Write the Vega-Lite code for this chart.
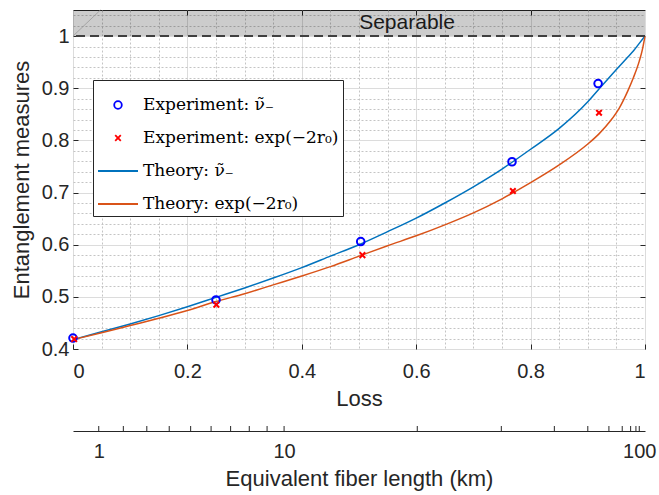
{
  "$schema": "https://vega.github.io/schema/vega-lite/v6.json",
  "autosize": {"type": "pad"},
  "padding": {"left": 9, "top": 7, "right": 5, "bottom": 5},
  "background": "white",
  "config": {
    "font": "Liberation Sans",
    "view": {"stroke": null},
    "axis": {
      "labelFont": "Liberation Sans",
      "titleFont": "Liberation Sans",
      "labelColor": "#262626",
      "titleColor": "#262626",
      "labelFontSize": 20,
      "titleFontSize": 22,
      "titleFontWeight": "normal",
      "tickColor": "#262626"
    }
  },
  "datasets": {
    "theory": [
      {"loss": 0, "value": 0.418, "series": "Theory: ν̃₋"},
      {"loss": 0.05, "value": 0.433, "series": "Theory: ν̃₋"},
      {"loss": 0.1, "value": 0.448, "series": "Theory: ν̃₋"},
      {"loss": 0.15, "value": 0.464, "series": "Theory: ν̃₋"},
      {"loss": 0.2, "value": 0.481, "series": "Theory: ν̃₋"},
      {"loss": 0.25, "value": 0.499, "series": "Theory: ν̃₋"},
      {"loss": 0.3, "value": 0.517, "series": "Theory: ν̃₋"},
      {"loss": 0.35, "value": 0.536, "series": "Theory: ν̃₋"},
      {"loss": 0.4, "value": 0.556, "series": "Theory: ν̃₋"},
      {"loss": 0.45, "value": 0.578, "series": "Theory: ν̃₋"},
      {"loss": 0.5, "value": 0.6, "series": "Theory: ν̃₋"},
      {"loss": 0.55, "value": 0.625, "series": "Theory: ν̃₋"},
      {"loss": 0.6, "value": 0.651, "series": "Theory: ν̃₋"},
      {"loss": 0.65, "value": 0.68, "series": "Theory: ν̃₋"},
      {"loss": 0.7, "value": 0.711, "series": "Theory: ν̃₋"},
      {"loss": 0.75, "value": 0.745, "series": "Theory: ν̃₋"},
      {"loss": 0.8, "value": 0.783, "series": "Theory: ν̃₋"},
      {"loss": 0.85, "value": 0.823, "series": "Theory: ν̃₋"},
      {"loss": 0.9, "value": 0.874, "series": "Theory: ν̃₋"},
      {"loss": 0.92, "value": 0.899, "series": "Theory: ν̃₋"},
      {"loss": 0.95, "value": 0.936, "series": "Theory: ν̃₋"},
      {"loss": 0.97, "value": 0.96, "series": "Theory: ν̃₋"},
      {"loss": 0.98, "value": 0.972, "series": "Theory: ν̃₋"},
      {"loss": 0.99, "value": 0.986, "series": "Theory: ν̃₋"},
      {"loss": 1.0, "value": 1.0, "series": "Theory: ν̃₋"},
      {"loss": 0, "value": 0.418, "series": "Theory: exp(−2r₀)"},
      {"loss": 0.05, "value": 0.431, "series": "Theory: exp(−2r₀)"},
      {"loss": 0.1, "value": 0.445, "series": "Theory: exp(−2r₀)"},
      {"loss": 0.15, "value": 0.459, "series": "Theory: exp(−2r₀)"},
      {"loss": 0.2, "value": 0.474, "series": "Theory: exp(−2r₀)"},
      {"loss": 0.25, "value": 0.491, "series": "Theory: exp(−2r₀)"},
      {"loss": 0.3, "value": 0.506, "series": "Theory: exp(−2r₀)"},
      {"loss": 0.35, "value": 0.523, "series": "Theory: exp(−2r₀)"},
      {"loss": 0.4, "value": 0.54, "series": "Theory: exp(−2r₀)"},
      {"loss": 0.45, "value": 0.558, "series": "Theory: exp(−2r₀)"},
      {"loss": 0.5, "value": 0.578, "series": "Theory: exp(−2r₀)"},
      {"loss": 0.55, "value": 0.598, "series": "Theory: exp(−2r₀)"},
      {"loss": 0.6, "value": 0.617, "series": "Theory: exp(−2r₀)"},
      {"loss": 0.65, "value": 0.638, "series": "Theory: exp(−2r₀)"},
      {"loss": 0.7, "value": 0.661, "series": "Theory: exp(−2r₀)"},
      {"loss": 0.75, "value": 0.688, "series": "Theory: exp(−2r₀)"},
      {"loss": 0.8, "value": 0.719, "series": "Theory: exp(−2r₀)"},
      {"loss": 0.85, "value": 0.753, "series": "Theory: exp(−2r₀)"},
      {"loss": 0.9, "value": 0.793, "series": "Theory: exp(−2r₀)"},
      {"loss": 0.92, "value": 0.813, "series": "Theory: exp(−2r₀)"},
      {"loss": 0.94, "value": 0.838, "series": "Theory: exp(−2r₀)"},
      {"loss": 0.955, "value": 0.862, "series": "Theory: exp(−2r₀)"},
      {"loss": 0.97, "value": 0.895, "series": "Theory: exp(−2r₀)"},
      {"loss": 0.98, "value": 0.921, "series": "Theory: exp(−2r₀)"},
      {"loss": 0.99, "value": 0.952, "series": "Theory: exp(−2r₀)"},
      {"loss": 0.995, "value": 0.972, "series": "Theory: exp(−2r₀)"},
      {"loss": 1.0, "value": 1.0, "series": "Theory: exp(−2r₀)"}
    ],
    "exp": [
      {"loss": 0.0, "value": 0.421, "series": "Experiment: ν̃₋"},
      {"loss": 0.25, "value": 0.494, "series": "Experiment: ν̃₋"},
      {"loss": 0.503, "value": 0.606, "series": "Experiment: ν̃₋"},
      {"loss": 0.7675, "value": 0.759, "series": "Experiment: ν̃₋"},
      {"loss": 0.918, "value": 0.909, "series": "Experiment: ν̃₋"},
      {"loss": 0.002, "value": 0.419, "series": "Experiment: exp(−2r₀)"},
      {"loss": 0.2506, "value": 0.485, "series": "Experiment: exp(−2r₀)"},
      {"loss": 0.506, "value": 0.58, "series": "Experiment: exp(−2r₀)"},
      {"loss": 0.769, "value": 0.703, "series": "Experiment: exp(−2r₀)"},
      {"loss": 0.9196, "value": 0.853, "series": "Experiment: exp(−2r₀)"}
    ],
    "region": [{"x0": 0, "x1": 1, "y0": 1, "y1": 1.05}],
    "threshold": [{"y": 1}],
    "diag": [{"loss": 0, "value": 1}, {"loss": 0.048, "value": 1.05}],
    "note": [{"loss": 0.584, "value": 1.026, "text": "Separable"}],
    "fiber": [
      {"km": 1, "loss": 0.045007},
      {"km": 2, "loss": 0.08799},
      {"km": 3, "loss": 0.12904},
      {"km": 4, "loss": 0.16824},
      {"km": 5, "loss": 0.20567},
      {"km": 6, "loss": 0.24142},
      {"km": 7, "loss": 0.27556},
      {"km": 8, "loss": 0.30817},
      {"km": 9, "loss": 0.33931},
      {"km": 10, "loss": 0.36904},
      {"km": 20, "loss": 0.60189},
      {"km": 30, "loss": 0.74881},
      {"km": 40, "loss": 0.84151},
      {"km": 50, "loss": 0.9},
      {"km": 60, "loss": 0.93690},
      {"km": 70, "loss": 0.96019},
      {"km": 80, "loss": 0.97488},
      {"km": 90, "loss": 0.98415},
      {"km": 100, "loss": 0.99}
    ]
  },
  "spacing": 77,
  "bounds": "flush",
  "vconcat": [
    {
      "width": 572,
      "height": 339,
      "view": {"stroke": "#262626", "strokeWidth": 1},
      "resolve": {"axis": {"x": "independent", "y": "independent"}},
      "layer": [
        {
          "data": {"name": "region"},
          "mark": {"type": "rect", "fill": "#000000", "opacity": 0.2},
          "encoding": {
            "x": {"field": "x0", "type": "quantitative",
              "scale": {"domain": [0, 1], "nice": false, "zero": false},
              "axis": {"orient": "bottom", "values": [0.05, 0.1, 0.15, 0.25, 0.3, 0.35, 0.45, 0.5, 0.55, 0.65, 0.7, 0.75, 0.85, 0.9, 0.95],
                "grid": true, "gridDash": [2, 2], "gridColor": "#c4c4c4", "labels": false, "ticks": false, "domain": false, "title": null}},
            "x2": {"field": "x1"},
            "y": {"field": "y0", "type": "quantitative",
              "scale": {"domain": [0.4, 1.05], "nice": false, "zero": false},
              "axis": {"orient": "left", "values": [0.42, 0.44, 0.46, 0.48, 0.52, 0.54, 0.56, 0.58, 0.62, 0.64, 0.66, 0.68, 0.72, 0.74, 0.76, 0.78, 0.82, 0.84, 0.86, 0.88, 0.92, 0.94, 0.96, 0.98, 1.02, 1.04],
                "grid": true, "gridDash": [2, 2], "gridColor": "#c4c4c4", "labels": false, "ticks": false, "domain": false, "title": null}},
            "y2": {"field": "y1"}
          }
        },
        {
          "data": {"name": "theory"},
          "mark": {"type": "line", "strokeWidth": 1.5, "interpolate": "monotone"},
          "encoding": {
            "x": {"field": "loss", "type": "quantitative",
              "scale": {"domain": [0, 1], "nice": false, "zero": false},
              "axis": {"orient": "bottom", "values": [0, 0.2, 0.4, 0.6, 0.8, 1], "format": "~g", "grid": true, "gridColor": "#dcdcdc",
                "tickSize": -5, "domain": false, "title": "Loss", "labelPadding": 17, "titlePadding": 7}},
            "y": {"field": "value", "type": "quantitative",
              "scale": {"domain": [0.4, 1.05], "nice": false, "zero": false},
              "axis": {"orient": "left", "values": [0.4, 0.5, 0.6, 0.7, 0.8, 0.9, 1], "format": "~g", "grid": true, "gridColor": "#dcdcdc",
                "tickSize": -5, "domain": false, "title": "Entanglement measures", "labelPadding": 9, "titlePadding": 8}},
            "color": {"field": "series", "type": "nominal",
              "scale": {"domain": ["Experiment: ν̃₋", "Experiment: exp(−2r₀)", "Theory: ν̃₋", "Theory: exp(−2r₀)"],
                "range": ["#0000ff", "#ff0000", "#0072bd", "#d95319"]},
              "legend": {"title": null, "orient": "none", "legendX": 20, "legendY": 70, "fillColor": "white", "strokeColor": "#262626",
                "padding": 4, "symbolSize": 1600, "symbolStrokeWidth": 1.8, "labelFont": "DejaVu Serif", "labelFontSize": 17,
                "labelColor": "#000000", "rowPadding": 4, "labelOffset": 4, "labelLimit": 400}}
          }
        },
        {
          "data": {"name": "exp"},
          "mark": {"type": "point", "filled": false, "strokeWidth": 2, "size": 1600, "opacity": 1},
          "encoding": {
            "x": {"field": "loss", "type": "quantitative",
              "scale": {"domain": [0, 1], "nice": false, "zero": false},
              "axis": {"orient": "top", "values": [0.2, 0.4, 0.6, 0.8], "labels": false, "grid": false, "tickSize": -5, "domain": false, "title": null}},
            "y": {"field": "value", "type": "quantitative",
              "scale": {"domain": [0.4, 1.05], "nice": false, "zero": false},
              "axis": {"orient": "right", "values": [0.5, 0.6, 0.7, 0.8, 0.9], "labels": false, "grid": false, "tickSize": -5, "domain": false, "title": null}},
            "color": {"field": "series", "type": "nominal",
              "scale": {"domain": ["Experiment: ν̃₋", "Experiment: exp(−2r₀)", "Theory: ν̃₋", "Theory: exp(−2r₀)"],
                "range": ["#0000ff", "#ff0000", "#0072bd", "#d95319"]},
              "legend": {"title": null, "orient": "none", "legendX": 20, "legendY": 70, "fillColor": "white", "strokeColor": "#262626",
                "padding": 4, "symbolSize": 1600, "symbolStrokeWidth": 1.8, "labelFont": "DejaVu Serif", "labelFontSize": 17,
                "labelColor": "#000000", "rowPadding": 4, "labelOffset": 4, "labelLimit": 400}},
            "shape": {"field": "series", "type": "nominal",
              "scale": {"domain": ["Experiment: ν̃₋", "Experiment: exp(−2r₀)", "Theory: ν̃₋", "Theory: exp(−2r₀)"],
                "range": ["M-0.19,0A0.19,0.19,0,1,1,0.19,0A0.19,0.19,0,1,1,-0.19,0Z", "M-0.14,-0.14L0.14,0.14M-0.14,0.14L0.14,-0.14", "stroke", "stroke"]},
              "legend": {"title": null, "orient": "none", "legendX": 20, "legendY": 70, "fillColor": "white", "strokeColor": "#262626",
                "padding": 4, "symbolSize": 1600, "symbolStrokeWidth": 1.8, "labelFont": "DejaVu Serif", "labelFontSize": 17,
                "labelColor": "#000000", "rowPadding": 4, "labelOffset": 4, "labelLimit": 400}}
          }
        },
        {
          "data": {"name": "threshold"},
          "mark": {"type": "rule", "strokeDash": [9, 5], "strokeWidth": 2, "color": "#404040"},
          "encoding": {
            "y": {"field": "y", "type": "quantitative", "scale": {"domain": [0.4, 1.05], "nice": false, "zero": false}, "axis": null}
          }
        },
        {
          "data": {"name": "diag"},
          "mark": {"type": "line", "strokeWidth": 0.8, "color": "#9a9a9a"},
          "encoding": {
            "x": {"field": "loss", "type": "quantitative", "scale": {"domain": [0, 1], "nice": false, "zero": false}, "axis": null},
            "y": {"field": "value", "type": "quantitative", "scale": {"domain": [0.4, 1.05], "nice": false, "zero": false}, "axis": null}
          }
        },
        {
          "data": {"name": "note"},
          "mark": {"type": "text", "fontSize": 21, "font": "Liberation Sans", "color": "#1a1a1a", "align": "center", "baseline": "middle"},
          "encoding": {
            "x": {"field": "loss", "type": "quantitative", "scale": {"domain": [0, 1], "nice": false, "zero": false}, "axis": null},
            "y": {"field": "value", "type": "quantitative", "scale": {"domain": [0.4, 1.05], "nice": false, "zero": false}, "axis": null},
            "text": {"field": "text"}
          }
        }
      ]
    },
    {
      "width": 572,
      "height": 5,
      "view": {"stroke": null},
      "data": {"name": "fiber"},
      "mark": {"type": "rule", "color": "#262626", "strokeWidth": 1},
      "encoding": {
        "x": {"field": "loss", "type": "quantitative",
          "scale": {"domain": [0, 1], "nice": false, "zero": false},
          "axis": {"orient": "bottom", "values": [0.045007, 0.36904, 0.99],
            "labelExpr": "datum.value < 0.1 ? '1' : (datum.value < 0.5 ? '10' : '100')",
            "ticks": false, "domain": true, "domainColor": "#262626", "domainWidth": 1.2, "grid": false,
            "title": "Equivalent fiber length (km)", "labelPadding": 10, "titlePadding": 7}}
      }
    }
  ]
}
